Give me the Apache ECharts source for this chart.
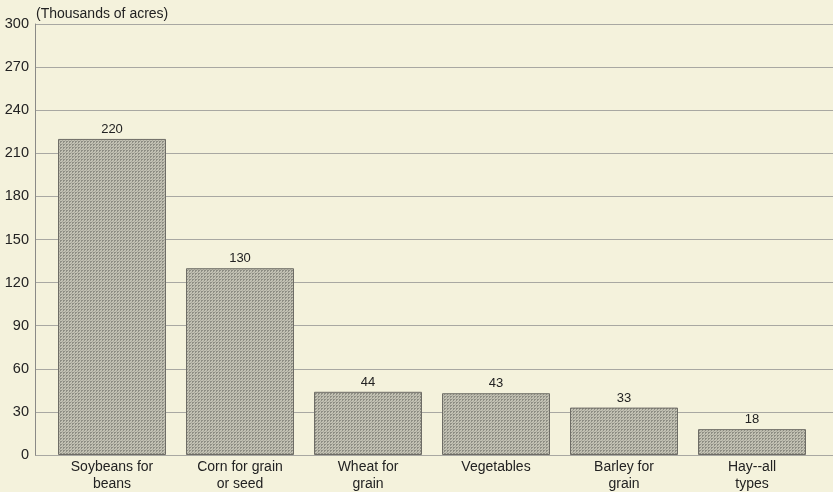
<!DOCTYPE html>
<html><head><meta charset="utf-8">
<script src="https://cdn.jsdelivr.net/npm/echarts@6/dist/echarts.min.js"></script>
<style>html,body{margin:0;padding:0;background:#f4f2dc}#c{width:833px;height:492px}</style>
</head><body><div id="c"></div>
<script>
const categories = ['Soybeans for\nbeans', 'Corn for grain\nor seed', 'Wheat for\ngrain', 'Vegetables', 'Barley for\ngrain', 'Hay--all\ntypes'];
const values = [220, 130, 44, 43, 33, 18];
const yMin = 0, yMax = 300, yStep = 30;

// fine screen texture for bars
const pc = document.createElement('canvas');
pc.width = 3; pc.height = 3;
const pctx = pc.getContext('2d');
pctx.fillStyle = '#c2c1b3'; pctx.fillRect(0, 0, 3, 3);
pctx.fillStyle = '#8e8e84'; pctx.fillRect(0, 0, 2, 1); pctx.fillRect(0, 1, 1, 1);
pctx.fillStyle = '#a9a89c'; pctx.fillRect(2, 2, 1, 1);

const chart = echarts.init(document.getElementById('c'));
const font = 'Liberation Sans, Arial, sans-serif';
chart.setOption({
  backgroundColor: '#f4f2dc',
  animation: false,
  title: { text: '(Thousands of acres)', left: 31, top: 2, textStyle: { fontFamily: font, fontSize: 14, fontWeight: 'normal', color: '#222' } },
  grid: [
    { left: 35, right: 0, top: 24, bottom: 37, outerBoundsMode: 'none', containLabel: false },
    { left: 48, right: 17, top: 24, bottom: 37, outerBoundsMode: 'none', containLabel: false }
  ],
  xAxis: [
    { type: 'value', gridIndex: 0, min: 0, max: 1, show: false },
    { type: 'category', gridIndex: 1, data: categories,
      axisLine: { show: false }, axisTick: { show: false },
      axisLabel: { fontFamily: font, fontSize: 14, color: '#222', lineHeight: 17, margin: 4 } }
  ],
  yAxis: [
    { type: 'value', gridIndex: 0, min: yMin, max: yMax, interval: yStep,
      axisLine: { show: true, lineStyle: { color: '#8a8a86', width: 1 } },
      axisTick: { show: false },
      splitLine: { show: true, lineStyle: { color: '#a8a8a2', width: 1 } },
      axisLabel: { fontFamily: font, fontSize: 14.5, color: '#222', margin: 6 } },
    { type: 'value', gridIndex: 1, min: yMin, max: yMax, interval: yStep, show: false }
  ],
  series: [{
    type: 'bar', xAxisIndex: 1, yAxisIndex: 1, data: values, barWidth: 108,
    itemStyle: { color: { image: pc, repeat: 'repeat' }, borderColor: '#6e6d66', borderWidth: 1 },
    label: { show: true, position: 'top', distance: 3, fontFamily: font, fontSize: 13, color: '#222' }
  }]
});
</script></body></html>
